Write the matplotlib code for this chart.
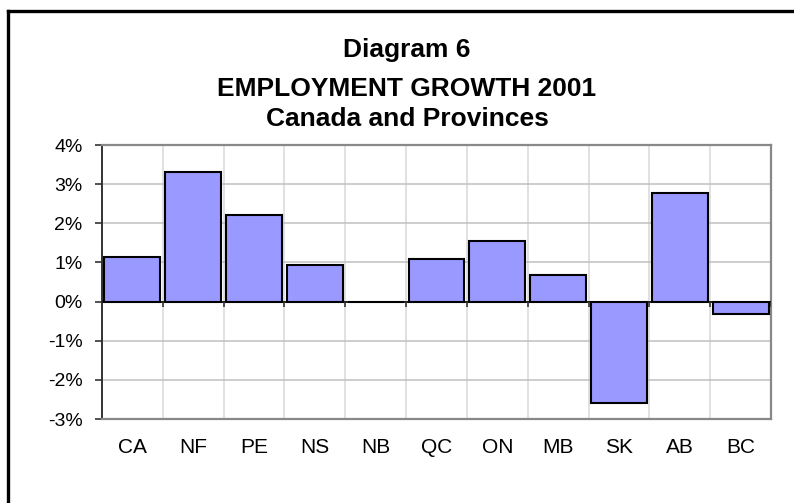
import numpy as np
import matplotlib.pyplot as plt
from matplotlib.lines import Line2D

# data (percent)
provinces = ['CA', 'NF', 'PE', 'NS', 'NB', 'QC', 'ON', 'MB', 'SK', 'AB', 'BC']
growth = [1.14, 3.30, 2.20, 0.93, 0.0, 1.09, 1.56, 0.67, -2.58, 2.77, -0.31]
y_ticks = [-3, -2, -1, 0, 1, 2, 3, 4]
title_lines = ['Diagram 6', 'EMPLOYMENT GROWTH 2001', 'Canada and Provinces']

plt.rcParams['font.family'] = ['Liberation Sans', 'DejaVu Sans']

W, H = 794, 503
fig = plt.figure(figsize=(W / 100, H / 100), dpi=100)
ax = fig.add_axes([102 / W, 1 - 419 / H, (771 - 102) / W, (419 - 145) / H])

x = np.arange(len(provinces))
ax.bar(x, growth, width=0.92, color='#9999FF', edgecolor='black', linewidth=1.5, zorder=3)

ax.set_xlim(-0.5, len(provinces) - 0.5)
ax.set_ylim(-3, 4)

# y axis
ax.set_yticks(y_ticks)
ax.set_yticklabels([f'{v}%' for v in y_ticks], fontsize=14)
ax.tick_params(axis='y', length=5, width=1.2, color='#333333', pad=9)
ax.grid(axis='y', color='#c0c0c0', linewidth=1.1, zorder=0)

# x axis: labels at category centres, grid at category boundaries
ax.set_xticks(x)
ax.set_xticklabels(provinces, fontsize=15)
ax.tick_params(axis='x', which='major', length=0, pad=14)
ax.set_xticks(np.arange(-0.5, len(provinces)), minor=True)
ax.tick_params(axis='x', which='minor', length=0)
ax.grid(axis='x', which='minor', color='#d9d9d9', linewidth=1.1, zorder=0)

# zero line with small tick marks at the category boundaries
ax.axhline(0, color='black', linewidth=1.2, zorder=4)
ax.vlines(np.arange(-0.5, len(provinces)), -0.14, 0, color='#333333', linewidth=1.2, zorder=4)

for side in ['top', 'right', 'bottom']:
    ax.spines[side].set_color('#888888')
    ax.spines[side].set_linewidth(1.6)
ax.spines['left'].set_color('#333333')
ax.spines['left'].set_linewidth(1.4)

# title, three lines
for txt, base in zip(title_lines, [56.5, 96, 126]):
    fig.text(407 / W, 1 - base / H, txt, ha='center', va='baseline',
             fontsize=19, fontweight='bold')

# outer frame (only left and top edges are visible in the picture)
fig.add_artist(Line2D([7.5 / W, 7.5 / W], [0, 1 - 10.5 / H], color='black', linewidth=2.4,
                      transform=fig.transFigure))
fig.add_artist(Line2D([7.5 / W, 1], [1 - 10.5 / H, 1 - 10.5 / H], color='black', linewidth=2.4,
                      transform=fig.transFigure))

fig.savefig('out.png', dpi=100)
